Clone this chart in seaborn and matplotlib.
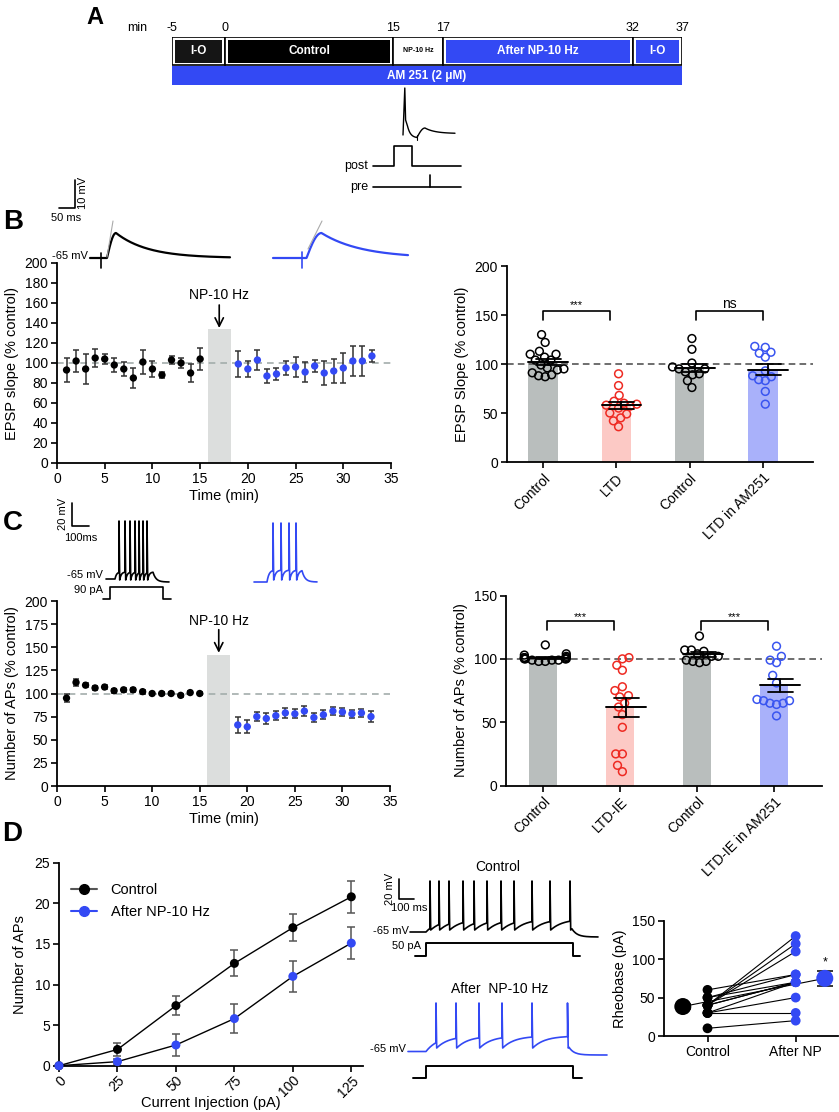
import numpy as np
import pandas as pd
import matplotlib
matplotlib.use("Agg")
import matplotlib.pyplot as plt
from matplotlib.patches import Rectangle
from matplotlib.lines import Line2D
import seaborn as sns

# ======================= DATA =======================
# A: protocol timeline (minutes)
timeline_edges = [-5, 0, 15, 17, 32, 37]
timeline_segments = ["I-O", "Control", "NP-10 Hz", "After NP-10 Hz", "I-O"]
drug_label = "AM 251 (2 μM)"

# NP-10 Hz pairing window on the time courses (min)
np_window = [15.8, 18.2]

# B left: EPSP slope time course (% control)
b_t_ctrl = list(range(1, 16))
b_m_ctrl = [93, 102, 94, 105, 104, 98, 94, 85, 101, 94, 88, 103, 100, 90, 104]
b_e_ctrl = [12, 11, 15, 9, 5, 7, 7, 10, 12, 8, 3, 4, 5, 9, 11]
b_t_post = list(range(19, 34))
b_m_post = [99, 94, 103, 87, 89, 95, 96, 91, 97, 90, 92, 95, 102, 102, 107]
b_e_post = [13, 8, 10, 7, 6, 7, 10, 10, 6, 12, 12, 15, 15, 15, 6]

# B right: individual EPSP slopes
b_groups = ["Control", "LTD", "Control ", "LTD in AM251"]
b_ctrl1 = [130, 122, 113, 110, 110, 107, 104, 104, 99, 96, 95, 94, 91, 89, 88, 87]
b_ltd = [90, 78, 68, 62, 60, 59, 58, 57, 55, 50, 49, 45, 42, 36]
b_ctrl2 = [126, 115, 101, 97, 95, 95, 92, 90, 89, 83, 76]
b_ltd_am = [118, 117, 112, 111, 107, 93, 88, 87, 84, 83, 72, 59]

# C left: number of APs time course (% control)
c_t_ctrl = list(range(1, 16))
c_m_ctrl = [95, 112, 109, 106, 107, 103, 104, 104, 102, 100, 100, 100, 98, 101, 100]
c_e_ctrl = [4.5, 4, 2.5, 2, 2, 2, 2, 2, 2, 2, 2, 2, 2, 2, 2]
c_t_post = list(range(19, 34))
c_m_post = [66, 64, 75, 73, 76, 79, 78, 81, 74, 77, 81, 80, 78, 79, 75]
c_e_post = [9, 7, 5, 6, 5, 5, 5, 5, 5, 5, 4, 4, 4, 4, 6]

# C right: individual AP numbers
c_groups = ["Control", "LTD-IE", "Control ", "LTD-IE in AM251"]
c_ctrl1 = [111, 104, 103, 102, 101, 101, 101, 100, 100, 100, 100, 99, 99, 99, 98, 98]
c_ltdie = [101, 100, 95, 91, 78, 75, 71, 70, 65, 62, 56, 46, 25, 25, 16, 11]
c_ctrl2 = [118, 107, 107, 106, 104, 102, 102, 99, 98, 98, 97]
c_ltdie_am = [110, 102, 99, 97, 87, 81, 68, 67, 67, 65, 65, 64, 55]

# D left: input-output curve
d_current = [0, 25, 50, 75, 100, 125]
d_ctrl = [0, 2.0, 7.4, 12.6, 17.0, 20.8]
d_ctrl_sem = [0, 0.75, 1.2, 1.6, 1.7, 2.0]
d_after = [0, 0.5, 2.55, 5.8, 11.0, 15.1]
d_after_sem = [0, 0.35, 1.4, 1.75, 1.95, 2.0]

# D right: rheobase (pA), paired cells
rheo_ctrl = [10, 30, 30, 30, 40, 40, 40, 40, 50, 50, 60, 40]
rheo_after = [20, 30, 50, 70, 70, 130, 120, 110, 80, 70, 80, 70]

# ======================= STYLE =======================
BLUE = "#3349f4"
PT_BLUE = "#3a55f0"
RED = "#ee2a22"
GREY_BAR = "#b9bebd"
PINK_BAR = "#fcc9c5"
LAV_BAR = "#a9b1fa"

sns.set_theme(style="ticks")
plt.rcParams["font.family"] = ["Liberation Sans", "DejaVu Sans"]
plt.rcParams.update({
    "axes.linewidth": 1.3, "axes.edgecolor": "black",
    "xtick.major.width": 1.2, "ytick.major.width": 1.2,
    "xtick.major.size": 4, "ytick.major.size": 4,
    "xtick.labelsize": 10, "ytick.labelsize": 10, "axes.labelsize": 10,
    "xtick.color": "black", "ytick.color": "black",
    "axes.labelcolor": "black", "text.color": "black",
    "xtick.major.pad": 2.5, "ytick.major.pad": 2.5,
})

W, H = 839, 1112
fig = plt.figure(figsize=(W / 100, H / 100), dpi=100)


def px_ax(x0, y0, x1, y1, **kw):
    return fig.add_axes([x0 / W, 1 - y1 / H, (x1 - x0) / W, (y1 - y0) / H], **kw)


# ======================= A: timeline =======================
seg_layout = [0, 53, 221, 271, 461, 510]  # schematic (non-linear) widths
ax_tl = px_ax(172, 37, 682, 85)
ax_tl.set_xlim(0, 510)
ax_tl.set_ylim(0, 48)
ax_tl.axis("off")
seg_pos = np.interp(timeline_edges, timeline_edges, seg_layout)
seg_fill = ["#151515", "#000000", "white", BLUE, BLUE]
seg_txt = ["white", "white", "black", "white", "white"]
seg_fs = [8.5, 8.5, 5, 8.5, 8.5]
for i, name in enumerate(timeline_segments):
    x0, x1 = seg_pos[i], seg_pos[i + 1]
    ax_tl.add_patch(Rectangle((x0, 20), x1 - x0, 28, fc="white", ec="black", lw=1.2, zorder=1))
    ax_tl.add_patch(Rectangle((x0 + 3, 22.5), x1 - x0 - 6, 23, fc=seg_fill[i], ec="none", zorder=2))
    ax_tl.text((x0 + x1) / 2, 34, name, color=seg_txt[i], ha="center", va="center",
               fontsize=seg_fs[i], fontweight="bold", zorder=3)
ax_tl.add_patch(Rectangle((0, 0), 510, 19.5, fc=BLUE, ec="none"))
ax_tl.text(255, 9.5, drug_label, color="white", ha="center", va="center", fontsize=8.5, fontweight="bold")
for e, p in zip(timeline_edges, seg_pos):
    ax_tl.text(p, 57, str(e), ha="center", va="center", fontsize=9, clip_on=False)
ax_tl.text(-25, 57, "min", ha="right", va="center", fontsize=9, clip_on=False)


# ======================= helpers =======================
def time_course(ax, tc, mc, ec, tp, mp, ep, ymax, ystep, ylabel, shade_top, txt_y, arr_from, arr_to):
    ax.fill_between(np_window, 0, shade_top, color="#dcdedd", lw=0, zorder=0)
    ax.axhline(100, color="#a3adab", lw=1.2, ls=(0, (4, 3)), zorder=1)
    for t, m, e in ((tc, mc, ec), (tp, mp, ep)):
        ax.errorbar(t, m, yerr=e, fmt="none", ecolor="#333333", elinewidth=1.1,
                    capsize=2, capthick=1.1, zorder=2)
    df = pd.DataFrame({"t": tc + tp, "m": mc + mp,
                       "phase": ["ctrl"] * len(tc) + ["post"] * len(tp)})
    sns.scatterplot(data=df, x="t", y="m", hue="phase", palette={"ctrl": "black", "post": BLUE},
                    s=28, edgecolor="none", legend=False, ax=ax, zorder=3)
    ax.set_xlim(0, 35)
    ax.set_ylim(0, ymax)
    ax.set_xticks(range(0, 36, 5))
    ax.set_yticks(np.arange(0, ymax + 1, ystep))
    ax.set_xlabel("Time (min)", labelpad=2, fontsize=10.5)
    ax.set_ylabel(ylabel, labelpad=4, fontsize=10.5)
    mid = np.mean(np_window)
    ax.text(mid, txt_y, "NP-10 Hz", ha="center", va="center", fontsize=10)
    ax.annotate("", xy=(mid, arr_to), xytext=(mid, arr_from),
                arrowprops=dict(arrowstyle="->,head_length=0.5,head_width=0.25", lw=1.2,
                                color="black", shrinkA=0, shrinkB=0))
    sns.despine(ax=ax)


swarm_colls = []


def bar_panel(ax, names, groups, bar_cols, pt_cols, width, ymax, yticks, ylabel, brackets,
              xlim, mean_off, mean_hw, cap_hw):
    rows = [(n, v) for n, vals in zip(names, groups) for v in vals]
    df = pd.DataFrame(rows, columns=["group", "value"])
    sns.barplot(data=df, x="group", y="value", hue="group", order=names, hue_order=names,
                palette=dict(zip(names, bar_cols)), width=width, errorbar=None, saturation=1,
                legend=False, ax=ax, zorder=1, linewidth=0)
    ax.axhline(100, color="#555555", lw=1.2, ls=(0, (4, 2.5)), zorder=2.5)
    n0 = len(ax.collections)
    sns.swarmplot(data=df, x="group", y="value", hue="group", order=names, hue_order=names,
                  palette=dict(zip(names, pt_cols)), size=5.6, legend=False, ax=ax, zorder=3,
                  warn_thresh=1)
    for c in ax.collections[n0:]:
        fc = c.get_facecolors()
        c.set_edgecolors(fc)
        c.set_facecolors("none")
        c.set_linewidths(1.1)
        swarm_colls.append(c)
    for i, vals in enumerate(groups):
        v = np.asarray(vals, float)
        m = v.mean()
        s = v.std(ddof=1) / np.sqrt(len(v))
        xc = i + mean_off
        ax.plot([xc - mean_hw, xc + mean_hw], [m, m], color="black", lw=1.4, zorder=4)
        ax.plot([xc, xc], [m - s, m + s], color="black", lw=1.3, zorder=4)
        for yy in (m - s, m + s):
            ax.plot([xc - cap_hw, xc + cap_hw], [yy, yy], color="black", lw=1.3, zorder=4)
    for x0, x1, ytop, drop, txt, ty in brackets:
        ax.plot([x0, x0, x1, x1], [ytop - drop, ytop, ytop, ytop - drop], color="black", lw=1.2)
        ax.text((x0 + x1) / 2, ty, txt, ha="center", va="baseline",
                fontsize=8 if txt.startswith("*") else 10)
    ax.set_xlim(*xlim)
    ax.set_ylim(0, ymax)
    ax.set_yticks(yticks)
    ax.set_xticks(range(len(names)))
    ax.set_xticklabels([n.strip() for n in names], rotation=45, ha="right", va="top",
                       rotation_mode="anchor", fontsize=10)
    ax.set_xlabel("")
    ax.set_ylabel(ylabel, labelpad=4, fontsize=10.5)
    sns.despine(ax=ax)


# ======================= B =======================
ax_bl = px_ax(57, 263, 391, 463)
time_course(ax_bl, b_t_ctrl, b_m_ctrl, b_e_ctrl, b_t_post, b_m_post, b_e_post,
            200, 20, "EPSP slope (% control)", 134, 168, 158, 135)

ax_br = px_ax(507, 266, 813, 462)
bar_panel(ax_br, b_groups, [b_ctrl1, b_ltd, b_ctrl2, b_ltd_am],
          [GREY_BAR, PINK_BAR, GREY_BAR, LAV_BAR], ["black", RED, "black", PT_BLUE],
          0.4, 200, [0, 50, 100, 150, 200], "EPSP Slope (% control)",
          [(0, 0.92, 154, 9, "***", 157), (2.08, 3.0, 154, 9, "ns", 157)],
          (-0.49, 3.68), 0.07, 0.27, 0.17)

# ======================= C =======================
ax_cl = px_ax(57, 601, 390, 786)
time_course(ax_cl, c_t_ctrl, c_m_ctrl, c_e_ctrl, c_t_post, c_m_post, c_e_post,
            200, 25, "Number of APs (% control)", 142, 178, 169, 144)

ax_cr = px_ax(506, 595.5, 822, 785.6)
bar_panel(ax_cr, c_groups, [c_ctrl1, c_ltdie, c_ctrl2, c_ltdie_am],
          [GREY_BAR, PINK_BAR, GREY_BAR, LAV_BAR], ["black", RED, "black", PT_BLUE],
          0.37, 150, [0, 50, 100, 150], "Number of APs (% control)",
          [(0.05, 0.92, 130, 7, "***", 130.5), (2.05, 2.92, 130, 7, "***", 130.5)],
          (-0.48, 3.62), 0.08, 0.26, 0.165)

# ======================= D left =======================
ax_dl = px_ax(59, 862.7, 363, 1065.7)
for y, e in ((d_ctrl, d_ctrl_sem), (d_after, d_after_sem)):
    ax_dl.errorbar(d_current, y, yerr=e, fmt="none", ecolor="#555555", elinewidth=1.1,
                   capsize=3, capthick=1.1, zorder=2)
df_io = pd.DataFrame({"current": d_current * 2, "aps": d_ctrl + d_after,
                      "cond": ["Control"] * 6 + ["After NP-10 Hz"] * 6})
sns.lineplot(data=df_io, x="current", y="aps", units="cond", estimator=None, color="black",
             lw=1.0, ax=ax_dl, zorder=1)
sns.scatterplot(data=df_io, x="current", y="aps", hue="cond",
                palette={"Control": "black", "After NP-10 Hz": BLUE}, s=42, edgecolor="none",
                legend=False, ax=ax_dl, zorder=3, clip_on=False)
ax_dl.set_xlim(0, 130)
ax_dl.set_ylim(0, 25)
ax_dl.set_yticks(range(0, 26, 5))
ax_dl.set_xticks(d_current)
ax_dl.set_xticklabels([str(c) for c in d_current], rotation=45, ha="right", va="top",
                      rotation_mode="anchor")
ax_dl.tick_params(axis="x", pad=1.5)
ax_dl.set_xlabel("Current Injection (pA)", fontsize=10.5, va="center")
ax_dl.xaxis.set_label_coords(0.5, -0.185)
ax_dl.set_ylabel("Number of APs", labelpad=5, fontsize=10.5)
handles = [Line2D([], [], color="#555555", marker="o", mfc="black", mec="black", ms=7, lw=1.5),
           Line2D([], [], color=BLUE, marker="o", mfc=BLUE, mec=BLUE, ms=7, lw=1.5)]
ax_dl.legend(handles, ["Control", "After NP-10 Hz"], loc="upper left",
             bbox_to_anchor=(0.04, 0.9), frameon=False, fontsize=10.5, borderpad=0,
             borderaxespad=0, handlelength=1.8, handletextpad=0.9, labelspacing=0.55)
sns.despine(ax=ax_dl)

# ======================= D right =======================
ax_dr = px_ax(664.3, 920.7, 838, 1036)
n_cells = len(rheo_ctrl)
df_rh = pd.DataFrame({"cell": list(range(n_cells)) * 2,
                      "pos": [0] * n_cells + [1] * n_cells,
                      "val": rheo_ctrl + rheo_after,
                      "cond": ["Control"] * n_cells + ["After NP"] * n_cells})
sns.lineplot(data=df_rh, x="pos", y="val", units="cell", estimator=None, color="black",
             lw=0.8, ax=ax_dr, zorder=1)
sns.scatterplot(data=df_rh, x="pos", y="val", hue="cond",
                palette={"Control": "black", "After NP": BLUE}, s=50, edgecolor="none",
                legend=False, ax=ax_dr, zorder=3)
mean_pos = [-0.28, 1.33]
means = [np.mean(rheo_ctrl), np.mean(rheo_after)]
sems = [np.std(rheo_ctrl, ddof=1) / np.sqrt(n_cells), np.std(rheo_after, ddof=1) / np.sqrt(n_cells)]
ax_dr.plot(mean_pos, means, color="black", lw=0.8, zorder=1)
ax_dr.errorbar(mean_pos, means, yerr=sems, fmt="none", ecolor="black", elinewidth=1.1,
               capsize=6, capthick=1.1, zorder=2)
ax_dr.scatter(mean_pos, means, c=["black", BLUE], s=150, zorder=4, edgecolors="none", clip_on=False)
ax_dr.text(mean_pos[1], means[1] + sems[1] + 3, "*", ha="center", va="bottom", fontsize=9)
ax_dr.set_xlim(-0.49, 1.48)
ax_dr.set_ylim(0, 150)
ax_dr.set_yticks([0, 50, 100, 150])
ax_dr.set_xticks([0, 1])
ax_dr.set_xticklabels(["Control", "After NP"], fontsize=10)
ax_dr.set_xlabel("")
ax_dr.set_ylabel("Rheobase (pA)", labelpad=4, fontsize=10.5)
sns.despine(ax=ax_dr)

# ======================= overlay: letters, example traces =======================
ov = fig.add_axes([0, 0, 1, 1], zorder=10)
ov.set_xlim(0, W)
ov.set_ylim(H, 0)
ov.axis("off")
ov.patch.set_alpha(0)

for letter, (lx, ly, fs) in {"A": (95, 17, 17), "B": (13, 222, 20),
                             "C": (13, 523, 20), "D": (12, 834, 20)}.items():
    ov.text(lx, ly, letter, fontsize=fs, fontweight="bold", ha="center", va="center")


def step(x0, x_on, x_off, x1, base, top):
    return [x0, x_on, x_on, x_off, x_off, x1], [base, base, top, top, base, base]


def epsp(x0, x1, base, onset, rise, amp, tau):
    x = np.linspace(x0, x1, 500)
    t = x - onset
    y = np.zeros_like(x)
    r = (t > 0) & (t <= rise)
    y[r] = amp * np.sin(0.5 * np.pi * t[r] / rise)
    d = t > rise
    y[d] = amp * np.exp(-(t[d] - rise) / tau)
    return x, base - y


def spike_train(x0, x_on, x_off, x1, base, spikes, peak, trough, ramp, end, k, tau, n=30):
    xs, ys = [x0, x_on], [base, base]
    sx, sy = x_on, base
    for j, s in enumerate(list(spikes) + [x_off]):
        seg = np.linspace(sx, s, n)
        xs.extend(seg)
        ys.extend(ramp + (sy - ramp) * np.exp(-(seg - sx) / k))
        if j < len(spikes):
            xs.extend([s, s + 0.7])
            ys.extend([peak, trough])
            sx, sy = s + 0.7, trough
    y_off = ys[-1]
    seg = np.linspace(x_off, x1, n)
    xs.extend(seg)
    ys.extend(end + (y_off - end) * np.exp(-(seg - x_off) / tau))
    return xs, ys


# A: pairing schematic
xa = [403, 404.8, 405.6, 407.5]
ya = [135, 88, 120, 126]
s1 = np.linspace(407.5, 417, 20)
s2 = np.linspace(417, 425, 15)
s3 = np.linspace(425, 455, 30)
xa += list(s1) + list(s2) + list(s3)
ya += list(138 + (126 - 138) * np.exp(-(s1 - 407.5) / 3)) \
    + list(137.5 - 9.5 * np.sin(0.5 * np.pi * (s2 - 417) / 8)) \
    + list(133.5 + (128 - 133.5) * np.exp(-(s3 - 425) / 10))
ov.plot(xa, ya, color="black", lw=1.0)
ov.plot([417, 417], [135, 140], color="black", lw=0.8)
ov.text(368, 166, "post", ha="right", va="center", fontsize=9)
ov.plot(*step(373, 394, 412, 461, 166, 146), color="black", lw=1.2)
ov.text(368, 187, "pre", ha="right", va="center", fontsize=9)
ov.plot([373, 461], [187, 187], color="black", lw=1.2)
ov.plot([429.5, 429.5], [187, 175], color="black", lw=1.2)

# B: EPSP examples
ov.plot([59, 75, 75], [208, 208, 180], color="black", lw=1.2)
ov.text(66, 218, "50 ms", ha="center", va="center", fontsize=8)
ov.text(83, 193, "10 mV", ha="center", va="center", rotation=90, fontsize=8)
ov.text(88, 256, "-65 mV", ha="right", va="center", fontsize=8)
ov.plot(*epsp(90, 230, 258, 107, 9, 25, 32), color="black", lw=1.6)
ov.plot([101, 101], [253, 268], color="black", lw=1.2)
ov.plot([107, 113], [257, 221], color="#aaaaaa", lw=0.8)
ov.plot(*epsp(273, 408, 258, 306.5, 15, 25, 40), color=BLUE, lw=1.6)
ov.plot([302, 302], [252, 268], color=BLUE, lw=1.2)
ov.plot([308, 322], [249, 221], color="#aaaaaa", lw=0.8)

# C: AP train examples
ov.plot([72, 72, 89], [503, 526, 526], color="black", lw=1.2)
ov.text(63, 514, "20 mV", ha="center", va="center", rotation=90, fontsize=8)
ov.text(81, 538, "100ms", ha="center", va="center", fontsize=8)
ov.text(103, 575, "-65 mV", ha="right", va="center", fontsize=8)
ov.plot(*spike_train(106, 115, 153, 169, 579, [119, 125, 130, 135, 139, 143, 147],
                     521, 580, 572, 582, 1.5, 3), color="black", lw=1.2)
ov.text(103, 590, "90 pA", ha="right", va="center", fontsize=8)
ov.plot(*step(103, 110, 163, 171, 599, 587), color="black", lw=1.2)
ov.plot(*spike_train(254, 267, 302, 317, 582, [273, 281, 289, 296],
                     523, 580, 570, 582, 2, 3), color=BLUE, lw=1.2)

# D: rheobase example traces
ov.text(498, 867, "Control", ha="center", va="center", fontsize=10)
ov.plot([399, 399, 414], [879, 899, 899], color="black", lw=1.2)
ov.text(390, 889, "20 mV", ha="center", va="center", rotation=90, fontsize=8)
ov.text(409, 908, "100 ms", ha="center", va="center", fontsize=8)
ov.text(409, 931, "-65 mV", ha="right", va="center", fontsize=8)
ov.plot(*spike_train(410, 426, 572, 598, 932,
                     [430, 439, 449, 463, 474, 487, 501, 514, 532, 550, 570],
                     881, 930, 919, 937, 12, 5), color="black", lw=1.2)
ov.text(421, 946, "50 pA", ha="right", va="center", fontsize=8)
ov.plot(*step(415, 426, 573, 580, 956, 943), color="black", lw=1.4)

ov.text(500, 989, "After  NP-10 Hz", ha="center", va="center", fontsize=10)
ov.text(406, 1049, "-65 mV", ha="right", va="center", fontsize=8)
ov.plot(*spike_train(408, 426, 569, 607, 1051.5, [436, 456, 479, 502, 532, 567.5],
                     1003, 1048, 1036, 1055, 12, 5), color=BLUE, lw=1.2)
ov.plot(*step(413, 426, 573, 582, 1078, 1066), color="black", lw=1.4)

# --- compact the seaborn swarms (GraphPad-like overlapping scatter) ---
fig.canvas.draw()
for c in swarm_colls:
    offs = np.asarray(c.get_offsets(), float).copy()
    if len(offs):
        centre = np.round(offs[:, 0])
        offs[:, 0] = centre + 0.03 + (offs[:, 0] - centre) * 0.68
        c.set_offsets(offs)
    if "draw" in c.__dict__:
        del c.draw

fig.savefig("out.png", dpi=100)
